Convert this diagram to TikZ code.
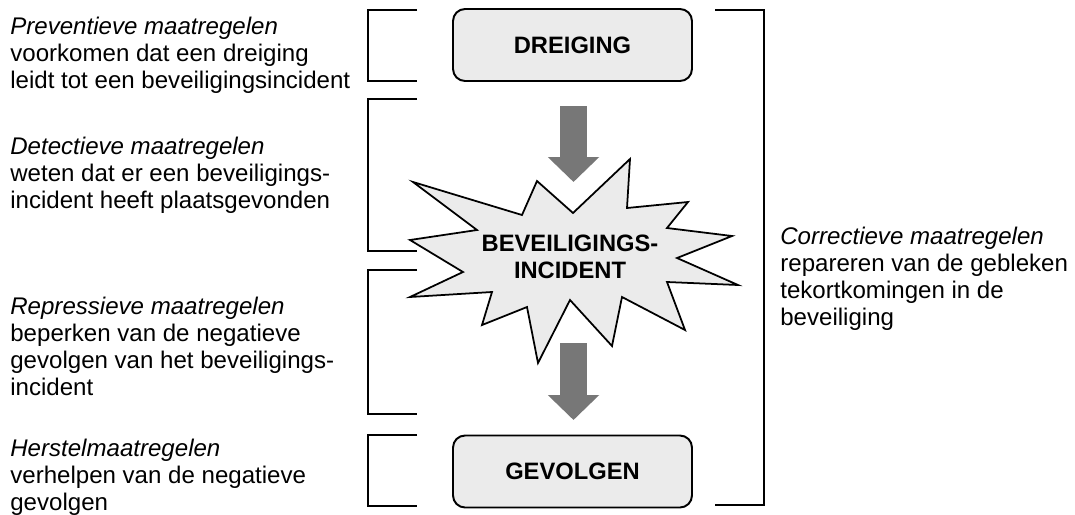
\documentclass[tikz,border=0pt]{standalone}
\usepackage{fontspec}
\setmainfont{Liberation Sans}
\usepackage{xcolor}
\usetikzlibrary{arrows.meta}
\definecolor{boxgray}{HTML}{EBEBEB}
\definecolor{arrowgray}{HTML}{777777}

\begin{document}
\begin{tikzpicture}[x=0.02cm, y=-0.02cm,
	desc/.style={anchor=north west, align=left, inner sep=0pt, font=\fontsize{13.7}{15.4}\selectfont},
	state/.style={draw, line width=1.1pt, fill=boxgray, rounded corners=0.24cm, minimum width=4.78cm, minimum height=1.44cm, font=\fontsize{13.5}{15.4}\selectfont\bfseries},
	brace/.style={line width=0.9pt},
	burst/.style={draw, line width=1pt, fill=boxgray, line join=miter},
	bigarrow/.style={arrowgray, line width=0.54cm, -{Triangle[length=0.5cm, width=1cm]}}]
	\useasboundingbox (0,0) rectangle (1075,514);
	\draw [brace] (417,10) -| (368,81) -- (417,81) (417,99) -| (368,251) -- (417,251) (417,270) -| (368,414) -- (417,414) (417,435) -| (368,506) -- (417,506);
	\draw [brace] (715,10) -| (764,505) -- (715,505);
	\node[state] (dreiging) at (572.5,45) {DREIGING};
	\node[state] (gevolgen) at (572.5,471.5) {GEVOLGEN};
	\draw[burst] (413,182) -- (522,215) -- (537,181) -- (573,213) -- (630,159) -- (627,208) -- (688,202) -- (667,228) -- (732,236) -- (677,258) -- (738,285) -- (667,282) -- (685,330) -- (622,297) -- (612,346) -- (570,300) -- (538,363) -- (527,307) -- (482,325) -- (492,292) -- (410,297) -- (463,272) -- (410,240) -- (477,230) -- cycle;
	\node[font=\fontsize{13.5}{15.4}\selectfont\bfseries, align=center, inner sep=0pt] (incident) at (570,257) {BEVEILIGINGS-\\INCIDENT};
	\coordinate (pijl1) at (573.5,106);
	\coordinate (pijl1e) at (573.5,182);
	\coordinate (pijl2) at (573.5,343);
	\coordinate (pijl2e) at (573.5,420);
	\draw[bigarrow] (pijl1) -- (pijl1e);
	\draw[bigarrow] (pijl2) -- (pijl2e);
	\node[desc] (preventief) at (10,16.5) {\emph{Preventieve maatregelen}\\voorkomen dat een dreiging\\leidt tot een beveiligingsincident};
	\node[desc] (detectief) at (10,136.5) {\emph{Detectieve maatregelen}\\weten dat er een beveiligings-\\incident heeft plaatsgevonden};
	\node[desc] (repressief) at (10,296.5) {\emph{Repressieve maatregelen}\\beperken van de negatieve\\gevolgen van het beveiligings-\\incident};
	\node[desc] (herstel) at (10,438.5) {\emph{Herstelmaatregelen}\\verhelpen van de negatieve\\gevolgen};
	\node[desc] (correctief) at (780,226.5) {\emph{Correctieve maatregelen}\\repareren van de gebleken\\tekortkomingen in de\\beveiliging};
\end{tikzpicture}
\end{document}
